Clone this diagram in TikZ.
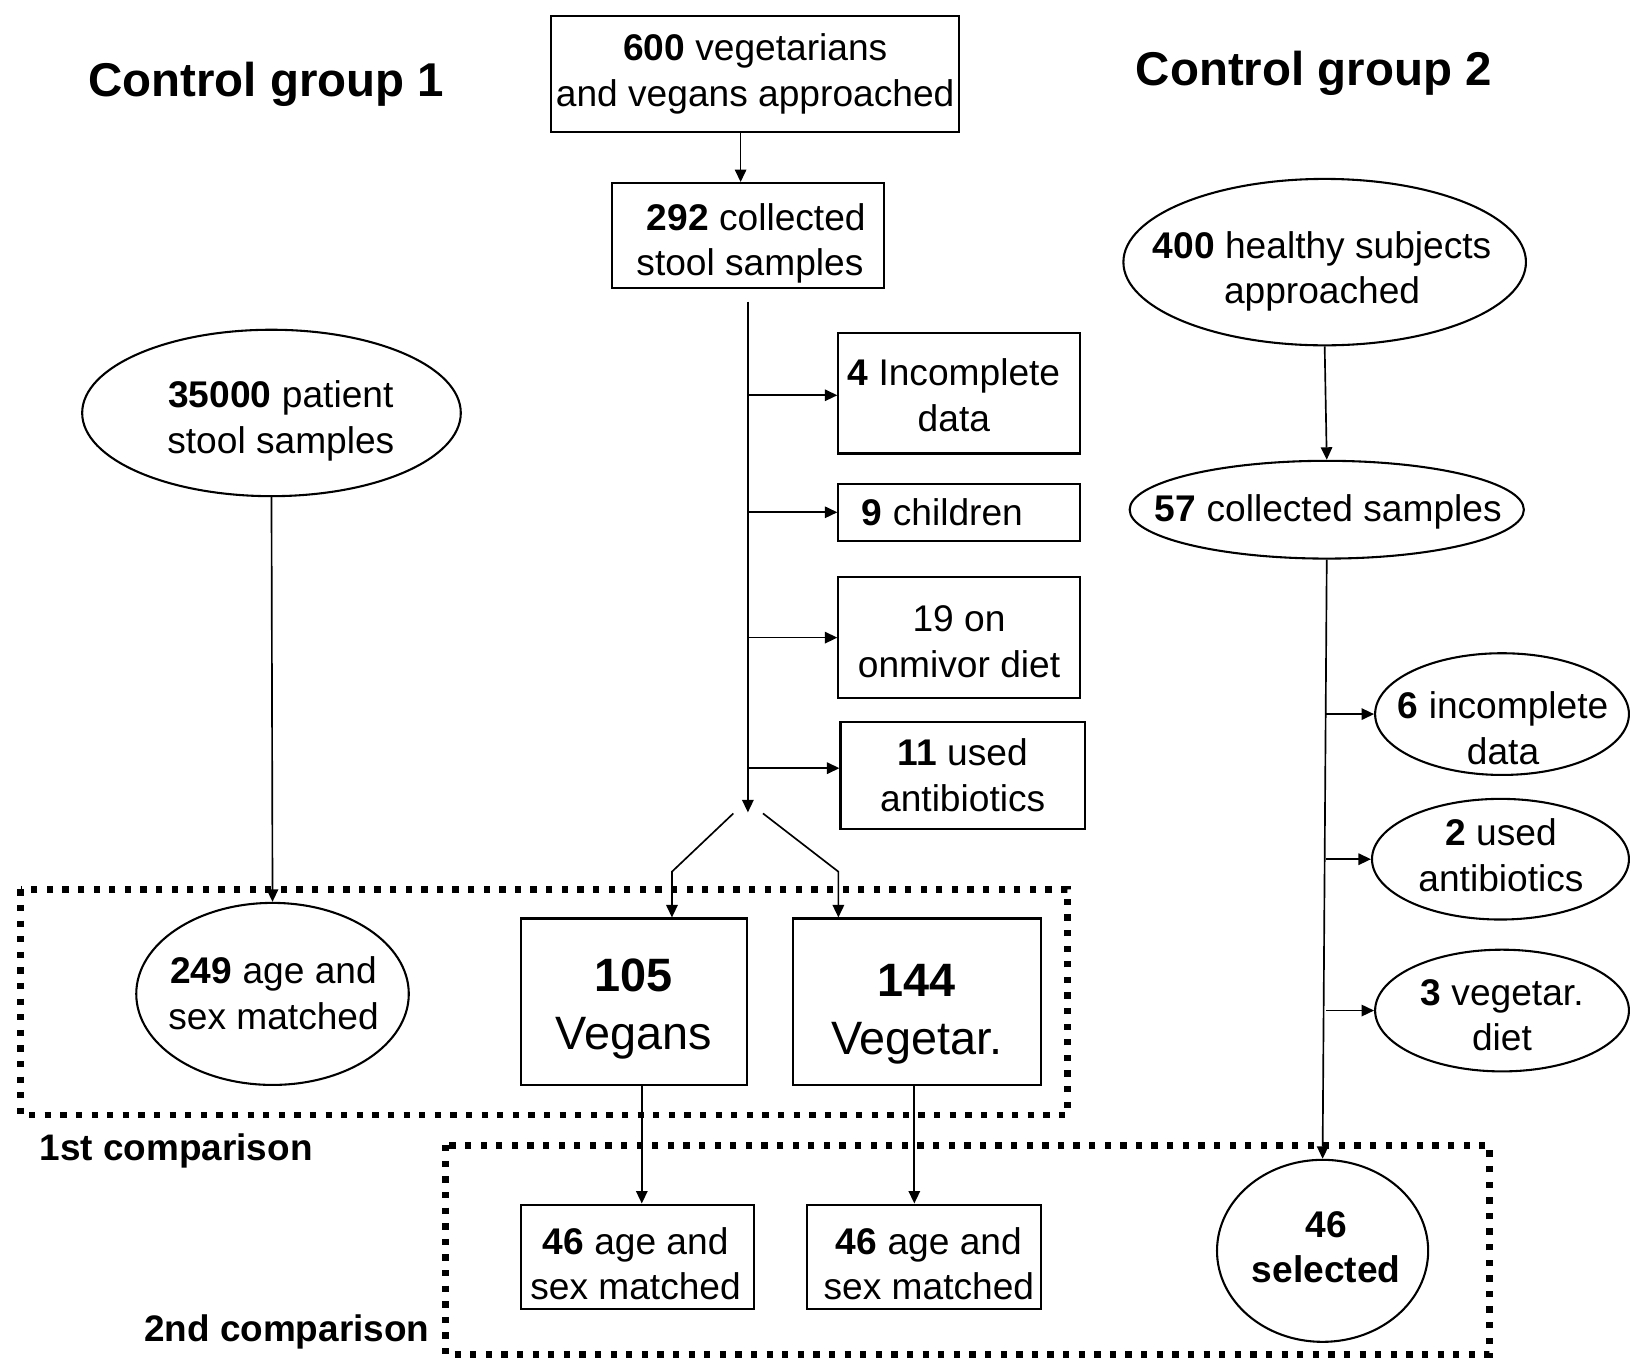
\documentclass[tikz,border=0pt]{standalone}
\usepackage{fontspec}
\setmainfont{Liberation Sans}
\usetikzlibrary{shapes.geometric,arrows.meta,calc}
\newcommand\bodyf{\fontsize{35.7}{44}\selectfont}
\newcommand\bigf{\fontsize{45}{56}\selectfont}
\newcommand\headf{\fontsize{45.6}{54}\selectfont\bfseries}
\newcommand\labf{\fontsize{35.5}{44}\selectfont\bfseries}
\begin{document}
\begin{tikzpicture}[x=1pt,y=-1pt,
  box/.style={draw, line width=2pt, rectangle, inner sep=0pt, align=center, font=\bodyf},
  bigbox/.style={draw, line width=2pt, rectangle, inner sep=0pt, align=center, font=\bigf},
  ell/.style={draw, line width=2pt, ellipse, inner sep=0pt},
  txt/.style={inner sep=0pt, align=center, font=\bodyf},
  conn/.style={line width=1.6pt, -{Triangle[length=12pt,width=11pt]}},
  frame/.style={line width=6.5pt, dash pattern=on 6pt off 9pt}]
\useasboundingbox (0,0) rectangle (1568,1307);

% headings
\node[font=\headf, anchor=base, inner sep=0pt] (cg1) at (256,93) {Control group 1};
\node[font=\headf, anchor=base, inner sep=0pt] (cg2) at (1263,82) {Control group 2};

% centre column
\node[box, minimum width=392pt, minimum height=112pt] (b600) at (726,71) {\textbf{600} vegetarians\\and vegans approached};
\node[box, minimum width=262pt, minimum height=101pt] (b292) at (719,226.5) {};
\node[txt] at (721,234) {\hspace*{12pt}\textbf{292} collected\\stool samples};
\node[box, minimum width=232pt, minimum height=116pt] (inc) at (922,378) {};
\node[txt] at (917,380) {\textbf{4} Incomplete\\data};
\node[box, minimum width=232pt, minimum height=55pt] (chi) at (922,492.5) {\hspace*{-32pt}\textbf{9} children};
\node[box, minimum width=232pt, minimum height=116pt] (omn) at (922,613) {};
\node[txt] at (922,617) {19 on\\onmivor diet};
\node[box, minimum width=235pt, minimum height=103pt] (abx) at (925.5,745.5) {\textbf{11} used\\antibiotics};

\node[bigbox, minimum width=217pt, minimum height=160pt] (veg) at (609.5,963) {};
\node[txt, font=\bigf] at (609.5,970) {\textbf{105}\\Vegans};
\node[bigbox, minimum width=239pt, minimum height=160pt] (vgt) at (881.5,963) {};
\node[txt, font=\bigf] at (881.5,975) {\textbf{144}\\Vegetar.};

\node[box, minimum width=224pt, minimum height=100pt] (m46a) at (613,1208) {};
\node[txt] at (611,1215) {\textbf{46} age and\\sex matched};
\node[box, minimum width=225pt, minimum height=100pt] (m46b) at (888.5,1208) {};
\node[txt] at (893,1215) {\textbf{46} age and\\sex matched};

% left column
\node[ell, minimum width=364pt, minimum height=160pt] (p35) at (261,397) {};
\node[txt] at (270,405) {\textbf{35000} patient\\stool samples};
\node[ell, minimum width=262pt, minimum height=175pt] (m249) at (262,955.5) {};
\node[txt] at (263,955) {\textbf{249} age and\\sex matched};

% right column
\node[ell, minimum width=387pt, minimum height=160pt] (h400) at (1273.5,252) {};
\node[txt] at (1271,261) {\textbf{400} healthy subjects\\approached};
\node[ell, minimum width=379pt, minimum height=94pt] (c57) at (1275.5,490) {};
\node[txt] at (1277,492) {\textbf{57} collected samples};
\node[ell, minimum width=244pt, minimum height=117pt] (e6) at (1444,686.5) {};
\node[txt] at (1445,700) {\textbf{6} incomplete\\data};
\node[ell, minimum width=247pt, minimum height=116pt] (e2) at (1442.5,826) {};
\node[txt] at (1443,822) {\textbf{2} used\\antibiotics};
\node[ell, minimum width=244pt, minimum height=117pt] (e3) at (1444,971.5) {};
\node[txt] at (1444,976) {\textbf{3} vegetar.\\diet};
\node[ell, minimum width=203pt, minimum height=175pt] (sel) at (1271.5,1202.5) {};
\node[txt, font=\bodyf\bfseries] at (1275,1199) {46\\selected};

% frames and their labels
\draw[frame] (20,855) rectangle (1026,1072);
\draw[frame] (428,1101) rectangle (1432,1302);
\node[font=\labf, anchor=base west, inner sep=0pt] (c1st) at (38,1116) {1st comparison};
\node[font=\labf, anchor=base east, inner sep=0pt] (c2nd) at (413,1290) {2nd comparison};

% connectors
\coordinate (x712) at (712,0);
\draw[conn] (b600.south -| x712) -- (b292.north -| x712);
\coordinate (tt) at (719,290);
\coordinate (te) at (719,781);
\draw[conn] (tt) -- (te);
\coordinate (ia) at ($(inc.west)+(0,2)$);
\coordinate (aa) at ($(abx.west)+(0,-7)$);
\draw[conn] (ia -| tt) -- (ia);
\draw[conn] (chi.west -| tt) -- (chi.west);
\draw[conn] (omn.west -| tt) -- (omn.west);
\draw[conn] (aa -| tt) -- (aa);
\coordinate (sl) at (705,782);
\coordinate (sr) at (733.5,782);
\coordinate (kl) at (646,838);
\coordinate (kr) at (806,838);
\draw[conn] (sl) -- (kl) -- (kl |- veg.north);
\draw[conn] (sr) -- (kr) -- (kr |- vgt.north);

\draw[conn] (p35.south) -- (m249.north);
\coordinate (x617) at (617,0);
\coordinate (x879) at (879,0);
\draw[conn] (veg.south -| x617) -- (m46a.north -| x617);
\draw[conn] (vgt.south -| x879) -- (m46b.north -| x879);

\draw[conn] (h400.south) -- (c57.north);
\draw[conn] (c57.south) -- (sel.north);
\coordinate (x1275) at (1275,0);
\draw[conn] (e6.west -| x1275) -- (e6.west);
\draw[conn] (e2.west -| x1275) -- (e2.west);
\draw[conn] (e3.west -| x1275) -- (e3.west);
\end{tikzpicture}
\end{document}
